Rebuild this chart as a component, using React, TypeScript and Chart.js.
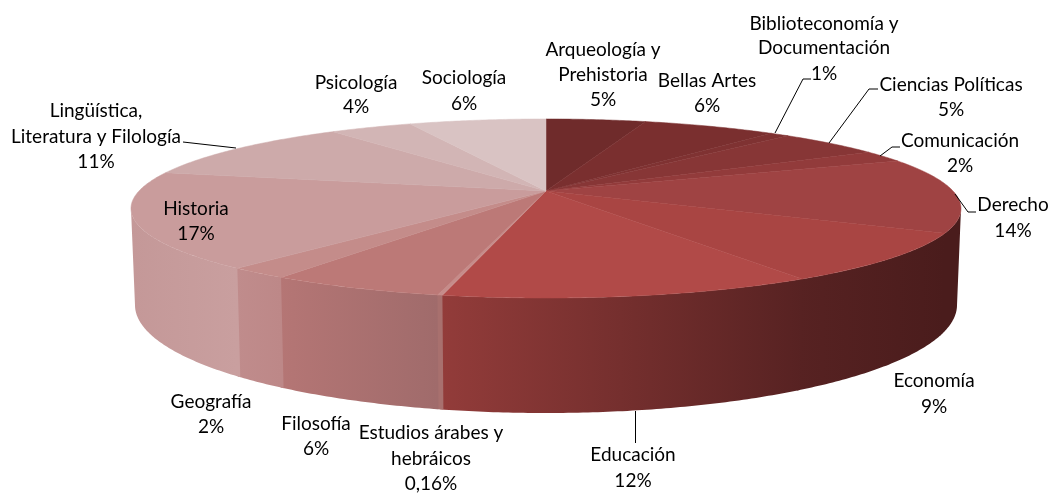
import React, { useEffect, useRef } from "react";
import { Chart, registerables } from "chart.js";

Chart.register(...registerables);

const categories = [
  "Arqueología y Prehistoria", "Bellas Artes", "Biblioteconomía y Documentación",
  "Ciencias Políticas", "Comunicación", "Derecho", "Economía", "Educación",
  "Estudios árabes y hebráicos", "Filosofía", "Geografía", "Historia",
  "Lingüística, Literatura y Filología", "Psicología", "Sociología",
];
const values = [4.7, 6.3, 0.9, 4.9, 2.1, 13.5, 8.8, 12.1, 0.16, 5.7, 2.0, 17.4, 11.1, 3.9, 6.44];
const percentLabels = ["5%", "6%", "1%", "5%", "2%", "14%", "9%", "12%", "0,16%", "6%", "2%", "17%", "11%", "4%", "6%"];

const topColors = [
  "#6f2b2b", "#7a2f2f", "#7f3232", "#873636", "#923b3b", "#9f4343", "#a94543", "#b14a48",
  "#c68c8a", "#bc7977", "#c48c8a", "#c99c9c", "#cdaaaa", "#d2b5b5", "#d9c3c3",
];
const wallColors: [string, string][] = [
  ["#5c2424", "#5c2424"], ["#5c2424", "#5c2424"], ["#5c2424", "#5c2424"], ["#5c2424", "#5c2424"],
  ["#4a1c1c", "#4a1c1c"], ["#4a1c1c", "#4a1c1c"], ["#572222", "#4a1c1c"], ["#933c3a", "#572222"],
  ["#a8706e", "#a8706e"], ["#b57675", "#a06b6b"], ["#c08c8c", "#bd8888"], ["#c49898", "#c99f9f"],
  ["#c49696", "#c49696"], ["#c9a0a0", "#c9a0a0"], ["#c9a0a0", "#c9a0a0"],
];

// label text blocks: lines, horizontal centre, and vertical centre of each line
const labelBlocks: { lines: string[]; x: number; ys: number[] }[] = [
  { lines: ["Arqueología y", "Prehistoria", percentLabels[0]], x: 603, ys: [50, 75, 100] },
  { lines: ["Bellas Artes", percentLabels[1]], x: 707, ys: [81, 106] },
  { lines: ["Biblioteconomía y", "Documentación", percentLabels[2]], x: 824, ys: [24, 48, 74] },
  { lines: ["Ciencias Políticas", percentLabels[3]], x: 951, ys: [85, 110] },
  { lines: ["Comunicación", percentLabels[4]], x: 960, ys: [141, 166] },
  { lines: ["Derecho", percentLabels[5]], x: 1013, ys: [205, 231] },
  { lines: ["Economía", percentLabels[6]], x: 934, ys: [381, 407] },
  { lines: ["Educación", percentLabels[7]], x: 633, ys: [455, 481] },
  { lines: ["Estudios árabes y", "hebráicos", percentLabels[8]], x: 431, ys: [433, 459, 484] },
  { lines: ["Filosofía", percentLabels[9]], x: 316, ys: [424, 449] },
  { lines: ["Geografía", percentLabels[10]], x: 211, ys: [402, 427] },
  { lines: ["Historia", percentLabels[11]], x: 196, ys: [209, 234] },
  { lines: ["Lingüística,", "Literatura y Filología", percentLabels[12]], x: 96, ys: [111, 137, 162] },
  { lines: ["Psicología", percentLabels[13]], x: 356, ys: [83, 107] },
  { lines: ["Sociología", percentLabels[14]], x: 464, ys: [78, 104] },
];

const leaderLines: number[][][] = [
  [[775, 133], [803, 79], [811, 79]],
  [[829, 143], [869, 89], [878, 89]],
  [[880, 156], [892, 147], [900, 147]],
  [[955, 194], [968, 212], [976, 212]],
  [[635.5, 411], [635.5, 443]],
  [[183, 142], [236, 148]],
];

// projection of the pie disc
const APEX_X = 546, APEX_Y = 191, SCALE_A = 407, SCALE_B = 86.1, PERSP = 0.1955;
const TOP_RX = 415, TOP_CY = 208.5, TOP_RY = 89.5;
const BOT_RX = 411, BOT_CY = 305, BOT_RY = 108;
const FRONT_START = Math.asin(PERSP);
const FRONT_END = Math.PI - FRONT_START;
const WALL_OVERLAP = 0.008;

const topPoint = (angle: number) => {
  const u = Math.cos(angle), v = Math.sin(angle);
  const w = 1 - PERSP * v;
  return { x: APEX_X + (SCALE_A * u) / w, y: APEX_Y + (SCALE_B * v) / w };
};
const bottomPoint = (p: { x: number; y: number }) => ({
  x: APEX_X + ((p.x - APEX_X) / TOP_RX) * BOT_RX,
  y: BOT_CY + ((p.y - TOP_CY) / TOP_RY) * BOT_RY,
});
const arcPoints = (start: number, end: number) => {
  const n = Math.max(2, Math.ceil((end - start) / 0.01));
  const pts = [];
  for (let i = 0; i <= n; i++) pts.push(topPoint(start + ((end - start) * i) / n));
  return pts;
};

const pie3d = {
  id: "pie3d",
  beforeDatasetDraw(chart: any, args: any) {
    const ctx = chart.ctx as CanvasRenderingContext2D;
    const arcs: any[] = args.meta.data;
    arcs.forEach((a, i) => {
      const lo = Math.max(a.startAngle, FRONT_START);
      const hi = Math.min(a.endAngle + WALL_OVERLAP, FRONT_END);
      if (lo >= hi) return;
      const pts = arcPoints(lo, hi);
      const xs = pts.map((p) => p.x);
      const g = ctx.createLinearGradient(Math.min(...xs), 0, Math.max(...xs), 0);
      g.addColorStop(0, wallColors[i][0]);
      g.addColorStop(1, wallColors[i][1]);
      ctx.beginPath();
      pts.forEach((p, k) => (k ? ctx.lineTo(p.x, p.y) : ctx.moveTo(p.x, p.y)));
      [...pts].reverse().forEach((p) => {
        const b = bottomPoint(p);
        ctx.lineTo(b.x, b.y);
      });
      ctx.closePath();
      ctx.fillStyle = g;
      ctx.fill();
    });
    arcs.forEach((a, i) => {
      const pts = arcPoints(a.startAngle, a.endAngle);
      ctx.beginPath();
      ctx.moveTo(APEX_X, APEX_Y);
      pts.forEach((p) => ctx.lineTo(p.x, p.y));
      ctx.closePath();
      ctx.fillStyle = a.options.backgroundColor;
      ctx.fill();
      ctx.strokeStyle = a.options.backgroundColor;
      ctx.lineWidth = 0.5;
      ctx.stroke();
    });
    return false;
  },
  afterDraw(chart: any) {
    const ctx = chart.ctx as CanvasRenderingContext2D;
    ctx.save();
    ctx.strokeStyle = "#000000";
    ctx.lineWidth = 1;
    for (const line of leaderLines) {
      ctx.beginPath();
      line.forEach(([x, y], k) => (k ? ctx.lineTo(x, y) : ctx.moveTo(x, y)));
      ctx.stroke();
    }
    ctx.fillStyle = "#000000";
    ctx.font = '19px Lato, "Noto Sans", sans-serif';
    ctx.textAlign = "center";
    ctx.textBaseline = "middle";
    for (const b of labelBlocks) {
      b.lines.forEach((t, k) => ctx.fillText(t, b.x, b.ys[k]));
    }
    ctx.restore();
  },
};

export default function App() {
  const ref = useRef<HTMLCanvasElement>(null);
  useEffect(() => {
    const chart = new Chart(ref.current as HTMLCanvasElement, {
      type: "pie",
      data: {
        labels: categories,
        datasets: [{ data: values, backgroundColor: topColors, borderWidth: 0 }],
      },
      options: {
        animation: false,
        responsive: false,
        plugins: { legend: { display: false }, tooltip: { enabled: false } },
      },
      plugins: [pie3d],
    } as any);
    return () => chart.destroy();
  }, []);
  return (
    <div style={{ position: "absolute", left: 0, top: 0, width: 1054, height: 495, background: "#ffffff" }}>
      <canvas ref={ref} width={1054} height={495} style={{ display: "block" }} />
    </div>
  );
}
